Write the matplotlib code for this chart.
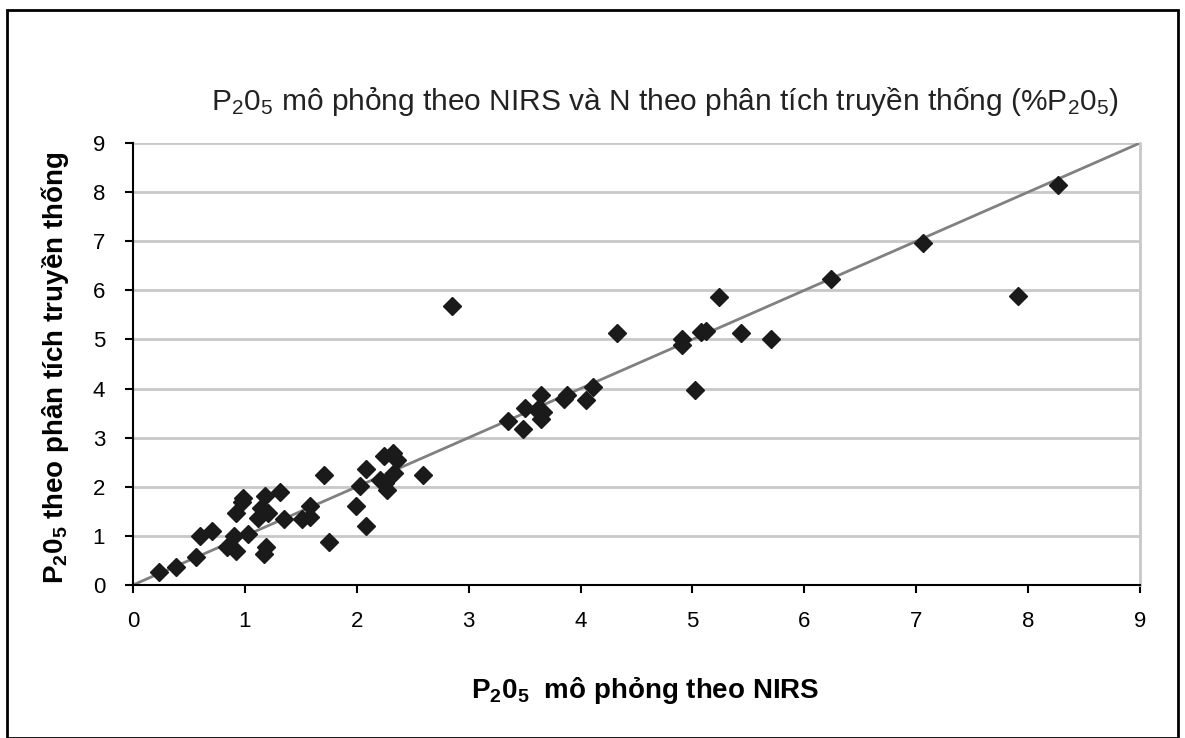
import numpy as np
import matplotlib.pyplot as plt
from matplotlib.patches import Rectangle

plt.rcParams['font.family'] = ['Liberation Sans', 'DejaVu Sans']
plt.rcParams['mathtext.fontset'] = 'custom'
plt.rcParams['mathtext.rm'] = 'Liberation Sans'
plt.rcParams['mathtext.bf'] = 'Liberation Sans:bold'
plt.rcParams['mathtext.default'] = 'regular'

# P2O5 theo NIRS (x) va theo phan tich truyen thong (y)
nirs = [0.23, 0.38, 0.56, 0.60, 0.71, 0.84, 0.90, 0.92, 0.92, 0.97, 0.98, 1.03,
        1.12, 1.14, 1.17, 1.19, 1.18, 1.21, 1.31, 1.35, 1.51, 1.58, 1.58,
        1.71, 1.75, 1.99, 2.03, 2.08, 2.08, 2.21, 2.24, 2.25, 2.27, 2.32,
        2.33, 2.36, 2.59, 2.85, 3.35, 3.49, 3.50, 3.61, 3.65, 3.65, 3.66,
        3.85, 3.88, 4.05, 4.11, 4.33, 4.91, 4.91, 5.02, 5.08, 5.12, 5.24,
        5.43, 5.70, 6.24, 7.06, 7.91, 8.27]
truyen_thong = [0.27, 0.36, 0.575, 1.00, 1.10, 0.78, 1.00, 0.70, 1.47, 1.69, 1.78, 1.04,
                1.37, 1.57, 0.64, 0.77, 1.81, 1.47, 1.90, 1.34, 1.34, 1.38, 1.61,
                2.24, 0.87, 1.61, 2.02, 1.20, 2.37, 2.13, 2.62, 2.07, 1.93, 2.68,
                2.28, 2.54, 2.25, 5.69, 3.34, 3.17, 3.60, 3.56, 3.86, 3.39, 3.52,
                3.79, 3.86, 3.76, 4.03, 5.14, 5.01, 4.89, 3.98, 5.15, 5.18, 5.86,
                5.14, 5.00, 6.23, 6.96, 5.89, 8.15]
ticks = list(range(10))

fig = plt.figure(figsize=(11.85, 7.38), dpi=100)
ax = fig.add_axes([133 / 1185, 1 - 585 / 738, (1140 - 133) / 1185, (585 - 143) / 738])

ax.set_xlim(0, 9)
ax.set_ylim(0, 9)
ax.set_xticks(ticks)
ax.set_yticks(ticks)
ax.grid(axis='y', color='#c8c8c8', linewidth=2)
ax.set_axisbelow(True)
ax.spines['top'].set_visible(False)
ax.spines['right'].set_color('#c8c8c8')
ax.spines['right'].set_linewidth(2)
ax.spines['left'].set_linewidth(1.5)
ax.spines['bottom'].set_linewidth(1.5)
ax.tick_params(direction='out', length=6, width=1.5, labelsize=16, colors='black')
ax.tick_params(axis='x', pad=13)
ax.tick_params(axis='y', pad=14)

ax.plot([0, 9], [0, 9], color='#808080', linewidth=2, zorder=2)
ax.plot(nirs, truyen_thong, linestyle='none', marker='D', markersize=9.5,
        color='#1a1a1a', zorder=3, clip_on=False)

fig.text(665 / 1185, 1 - 102 / 738,
         r'P$_2$0$_5$ mô phỏng theo NIRS và N theo phân tích truyền thống (%P$_2$0$_5$)',
         ha='center', va='center', fontsize=21.5, color='#222222')
fig.text(645 / 1185, 1 - 690 / 738, r'P$_2$0$_5$  mô phỏng theo NIRS',
         ha='center', va='center', fontsize=20, fontweight='bold')
fig.text(55 / 1185, 1 - 368 / 738, r'P$_2$0$_5$ theo phân tích truyền thống',
         ha='center', va='center', fontsize=20, fontweight='bold', rotation=90)

fig.patches.append(Rectangle((7 / 1185, 0), (1178 - 7) / 1185, 1 - 10 / 738,
                             transform=fig.transFigure, fill=False,
                             edgecolor='black', linewidth=2))

fig.savefig('out.png', dpi=100)
